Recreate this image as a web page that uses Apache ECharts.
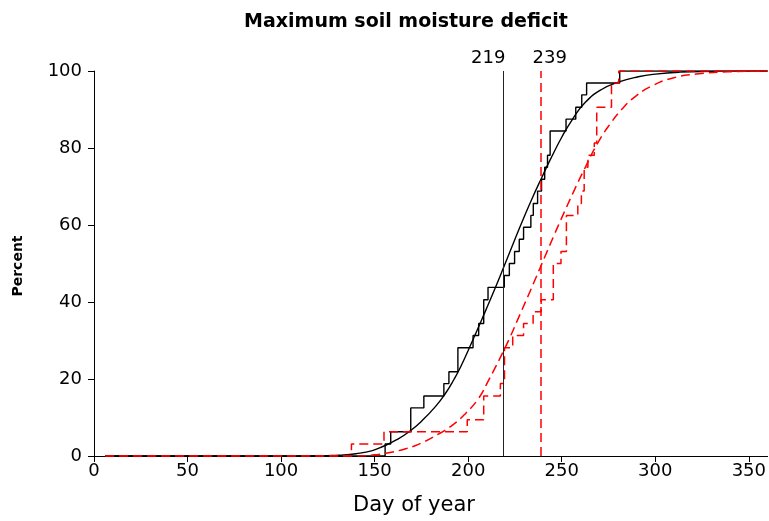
<!DOCTYPE html>
<html><head><meta charset="utf-8">
<script src="https://cdn.jsdelivr.net/npm/echarts@6/dist/echarts.min.js"></script>
<style>html,body{margin:0;padding:0;background:#fff}#c{width:769px;height:521px}</style>
</head><body><div id="c"></div>
<script>
const xTicks = [0, 50, 100, 150, 200, 250, 300, 350];
const yTicks = [0, 20, 40, 60, 80, 100];
const refLines = [219, 239];

// Empirical CDF (step) – black
const blackStepDays = [6, 155.6, 158.6, 169.3, 176.3, 187, 189.7, 194.5, 202.6, 205.6, 208.3, 210.6, 219.3, 222, 224.8, 227.3, 229.6, 233.5, 234.8, 237.1, 239.2, 240.9, 242.4, 243.8, 252.3, 257.5, 260.7, 263.3, 281, 360];
const blackStepPct  = [0, 3.1, 6.3, 12.5, 15.6, 18.8, 21.9, 28.1, 31.3, 34.4, 40.6, 43.8, 46.9, 50, 53.1, 56.3, 59.4, 62.5, 65.6, 68.8, 71.9, 75, 78.1, 84.4, 87.5, 90.6, 93.8, 96.9, 100, 100];

// Empirical CDF (step) – red
const redStepDays = [6, 137.6, 155, 199.5, 208.3, 217.2, 219.4, 223.8, 229.6, 234.7, 239, 245.5, 249.6, 252.5, 258.6, 260.5, 262, 264, 267.4, 268.7, 276.6, 280.5, 360];
const redStepPct  = [0, 3.1, 6.3, 9.4, 15.6, 18.8, 28.1, 31.3, 34.4, 37.5, 40.6, 50, 53.1, 62.5, 65.6, 68.8, 75, 78.1, 81.3, 90.6, 96.9, 100, 100];

// Fitted CDF – black
const blackFitDays = [6, 110, 125, 131, 140, 148.8, 155, 161.3, 168.4, 175.4, 182.6, 187.9, 192.3, 196, 202, 207.4, 212.7, 217.2, 220.7, 225, 229.5, 234, 239.4, 243.8, 250, 255.4, 262.5, 271.3, 280.2, 290.9, 300, 313, 330, 360];
const blackFitPct  = [0, 0, 0.1, 0.2, 0.6, 1.4, 2.6, 4.1, 6.3, 9.2, 12.9, 16.3, 19.8, 23.2, 29.6, 35.6, 41.6, 46.9, 51.1, 56.3, 61.6, 66.7, 72.4, 76.9, 82.8, 87.2, 91.8, 95.2, 97.1, 98.5, 99.2, 99.7, 99.9, 100];

// Fitted CDF – red
const redFitDays = [6, 140, 150, 156, 166.6, 174.6, 183.8, 192.3, 198.5, 205.6, 210.4, 214.5, 217.2, 222.5, 227, 232.3, 236.2, 241.2, 245.6, 250.4, 256.3, 261.6, 269.6, 276.7, 282, 289.1, 298.9, 309.5, 321.9, 338.8, 360];
const redFitPct  = [0, 0, 0.3, 0.7, 1.9, 3.3, 5.6, 8.3, 11.0, 15.0, 19.2, 23.0, 25.6, 31.0, 36.0, 41.9, 46.3, 52.0, 57.0, 62.3, 68.6, 74.0, 81.6, 86.8, 90.0, 93.3, 96.3, 98.2, 99.2, 99.8, 100];

const zip = (a, b) => a.map((v, i) => [v, b[i]]);
const FONT = 'DejaVu Sans';
const RED = '#ff0000';

const chart = echarts.init(document.getElementById('c'), null, {renderer: 'canvas'});
const option = {
  animation: false,
  backgroundColor: '#fff',
  textStyle: {fontFamily: FONT},
  title: {
    text: 'Maximum soil moisture deficit',
    left: 401, top: 8, textAlign: 'center',
    textStyle: {fontFamily: FONT, fontWeight: 'bold', fontSize: 19, color: '#000'}
  },
  grid: {left: 94, right: 0, top: 71, bottom: 65, containLabel: false},
  xAxis: [{
    type: 'value', min: 0, max: 360, interval: 50,
    axisLine: {show: true, onZero: false, lineStyle: {color: '#000', width: 1}},
    axisTick: {show: true, length: 6, customValues: xTicks, lineStyle: {color: '#000'}},
    axisLabel: {customValues: xTicks, fontFamily: FONT, fontSize: 18, color: '#000', margin: 6},
    splitLine: {show: false}
  }, {
    type: 'value', min: 0, max: 360, position: 'top',
    axisLine: {show: true, lineStyle: {color: '#000', width: 1}},
    axisTick: {show: false}, axisLabel: {show: false}, splitLine: {show: false}
  }],
  yAxis: {
    type: 'value', min: 0, max: 100, interval: 20,
    axisLine: {show: true, lineStyle: {color: '#000', width: 1}},
    axisTick: {show: true, length: 6, customValues: yTicks, lineStyle: {color: '#000'}},
    axisLabel: {customValues: yTicks, fontFamily: FONT, fontSize: 18, color: '#000', margin: 12},
    splitLine: {show: false}
  },
  series: [
    {
      type: 'line', name: 'blackStep', data: zip(blackStepDays, blackStepPct), step: 'end',
      symbol: 'none', lineStyle: {color: '#000', width: 1.4}, z: 3,
      markLine: {
        silent: true, symbol: 'none', animation: false,
        label: {show: false},
        data: [
          {xAxis: refLines[0], lineStyle: {color: '#222', width: 1, type: 'solid'}},
          {xAxis: refLines[1], lineStyle: {color: RED, width: 1.5, type: [9, 5]}}
        ]
      }
    },
    {
      type: 'line', name: 'blackFit', data: zip(blackFitDays, blackFitPct), smooth: 0.5,
      symbol: 'none', lineStyle: {color: '#000', width: 1.4}, z: 3
    },
    {
      type: 'line', name: 'redStep', data: zip(redStepDays, redStepPct), step: 'end',
      symbol: 'none', lineStyle: {color: RED, width: 1.5, type: [9, 5]}, z: 4
    },
    {
      type: 'line', name: 'redFit', data: zip(redFitDays, redFitPct), smooth: 0.5,
      symbol: 'none', lineStyle: {color: RED, width: 1.5, type: [9, 5]}, z: 4
    }
  ]
};
chart.setOption(option);

// reference-line value labels above the frame, plus axis names
const x219 = chart.convertToPixel({xAxisIndex: 0}, refLines[0]);
const x239 = chart.convertToPixel({xAxisIndex: 0}, refLines[1]);
const yTop = chart.convertToPixel({yAxisIndex: 0}, 100);
chart.setOption({
  graphic: [
    {type: 'text', x: x219 - 15.5, y: yTop - 13, style: {text: String(refLines[0]), font: '18px "DejaVu Sans"', fill: '#000', align: 'center', verticalAlign: 'middle'}},
    {type: 'text', x: x239 + 8.5, y: yTop - 13, style: {text: String(refLines[1]), font: '18px "DejaVu Sans"', fill: '#000', align: 'center', verticalAlign: 'middle'}},
    {type: 'text', x: 414, y: 506, style: {text: 'Day of year', font: '21px "DejaVu Sans"', fill: '#000', align: 'center', verticalAlign: 'middle'}},
    {type: 'text', x: 18, y: 266, rotation: Math.PI / 2, style: {text: 'Percent', font: 'bold 14px "DejaVu Sans"', fill: '#000', align: 'center', verticalAlign: 'middle'}}
  ]
});
</script>
</body></html>
